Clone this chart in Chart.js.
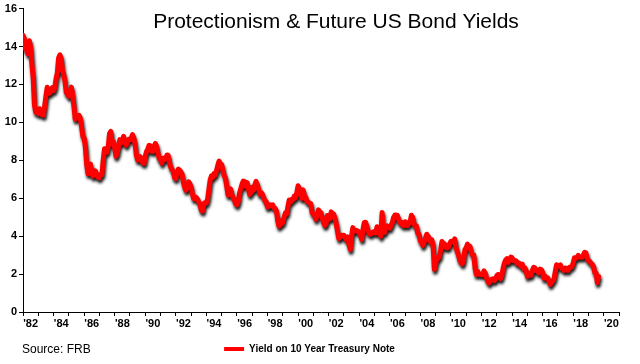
<!DOCTYPE html>
<html>
<head>
<meta charset="utf-8">
<script src="https://cdn.jsdelivr.net/npm/chart.js@4.4.0/dist/chart.umd.min.js"></script>
<style>
  html, body { margin: 0; padding: 0; background: #fff; }
  #wrap { position: relative; width: 640px; height: 364px; }
</style>
</head>
<body>
<div id="wrap"><canvas id="yieldChart" width="640" height="364"></canvas></div>
<script>
// Monthly 10 year treasury yields (%)
const firstYear = 1982;
const yields1982to1989 = [
  14.59, 14.43, 13.86, 13.87, 13.62, 14.30, 13.95, 13.06, 12.34, 10.91, 10.55, 10.54,
  10.46, 10.72, 10.51, 10.40, 10.38, 10.85, 11.38, 11.85, 11.65, 11.54, 11.69, 11.83,
  11.67, 11.84, 12.32, 12.63, 13.41, 13.56, 13.36, 12.72, 12.52, 12.16, 11.57, 11.50,
  11.38, 11.51, 11.86, 11.43, 10.85, 10.16, 10.31, 10.33, 10.37, 10.24, 9.78, 9.26,
  9.19, 8.70, 7.78, 7.30, 7.71, 7.80, 7.30, 7.17, 7.45, 7.43, 7.25, 7.11,
  7.08, 7.25, 7.25, 8.02, 8.61, 8.40, 8.45, 8.76, 9.42, 9.52, 8.86, 8.99,
  8.67, 8.21, 8.37, 8.72, 9.09, 8.92, 9.06, 9.26, 8.98, 8.80, 8.96, 9.11,
  9.09, 9.17, 9.36, 9.18, 8.86, 8.28, 8.02, 8.11, 8.19, 8.01, 7.87, 7.84
];
const yields1990s = [
  8.21, 8.47, 8.59, 8.79, 8.76, 8.48, 8.47, 8.75, 8.89, 8.72, 8.39, 8.08,
  8.09, 7.85, 8.11, 8.04, 8.07, 8.28, 8.27, 7.90, 7.65, 7.53, 7.42, 7.09,
  7.03, 7.34, 7.54, 7.48, 7.39, 7.26, 6.84, 6.59, 6.42, 6.59, 6.87, 6.77,
  6.60, 6.26, 5.98, 5.97, 6.04, 5.96, 5.81, 5.68, 5.36, 5.33, 5.72, 5.77,
  5.75, 5.97, 6.48, 6.97, 7.18, 7.10, 7.30, 7.24, 7.46, 7.74, 7.96, 7.81,
  7.78, 7.47, 7.20, 7.06, 6.63, 6.17, 6.28, 6.49, 6.20, 6.04, 5.93, 5.71,
  5.65, 5.81, 6.27, 6.51, 6.74, 6.91, 6.87, 6.64, 6.83, 6.53, 6.20, 6.30,
  6.58, 6.42, 6.69, 6.89, 6.71, 6.49, 6.22, 6.30, 6.21, 6.03, 5.88, 5.81,
  5.54, 5.57, 5.65, 5.64, 5.65, 5.50, 5.46, 5.34, 4.81, 4.53, 4.83, 4.65,
  4.72, 5.00, 5.23, 5.18, 5.54, 5.90, 5.79, 5.94, 5.92, 6.11, 6.03, 6.28
];
const yields2000s = [
  6.66, 6.52, 6.26, 5.99, 6.44, 6.10, 6.05, 5.83, 5.80, 5.74, 5.72, 5.24,
  5.16, 5.10, 4.89, 5.14, 5.39, 5.28, 5.24, 4.97, 4.73, 4.57, 4.65, 5.09,
  5.04, 4.91, 5.28, 5.21, 5.16, 4.93, 4.65, 4.26, 3.87, 3.94, 4.05, 4.03,
  4.05, 3.90, 3.81, 3.96, 3.57, 3.30, 3.98, 4.45, 4.27, 4.29, 4.30, 4.27,
  4.15, 4.08, 3.83, 4.35, 4.72, 4.73, 4.50, 4.28, 4.13, 4.10, 4.19, 4.23,
  4.22, 4.17, 4.50, 4.34, 4.14, 4.00, 5.25, 4.26, 4.20, 4.46, 4.54, 4.47,
  4.42, 4.57, 4.72, 4.99, 5.11, 5.11, 5.09, 4.88, 4.72, 4.73, 4.60, 4.56,
  4.76, 4.72, 4.56, 4.69, 4.75, 5.10, 5.00, 4.67, 4.52, 4.53, 4.15, 4.10,
  3.74, 3.74, 3.51, 3.68, 3.88, 4.10, 4.01, 3.89, 3.69, 3.81, 3.53, 2.25,
  2.52, 2.87, 2.82, 2.93, 3.29, 3.72, 3.56, 3.59, 3.40, 3.39, 3.40, 3.59
];
const yields2010s = [
  3.73, 3.69, 3.73, 3.85, 3.42, 3.20, 3.01, 2.70, 2.65, 2.54, 2.76, 3.29,
  3.39, 3.58, 3.41, 3.46, 3.17, 3.00, 3.00, 2.30, 1.98, 2.15, 2.01, 1.98,
  1.97, 1.97, 2.17, 2.05, 1.80, 1.62, 1.53, 1.68, 1.72, 1.75, 1.65, 1.72,
  1.91, 1.98, 1.96, 1.76, 1.93, 2.30, 2.58, 2.74, 2.81, 2.62, 2.72, 2.90,
  2.86, 2.71, 2.72, 2.71, 2.56, 2.60, 2.54, 2.42, 2.53, 2.30, 2.33, 2.21,
  1.88, 1.98, 2.04, 1.94, 2.20, 2.36, 2.32, 2.17, 2.17, 2.07, 2.26, 2.24,
  2.09, 1.78, 1.89, 1.81, 1.81, 1.64, 1.45, 1.56, 1.63, 1.76, 2.14, 2.49,
  2.43, 2.42, 2.48, 2.30, 2.30, 2.19, 2.32, 2.21, 2.20, 2.36, 2.35, 2.40,
  2.58, 2.86, 2.84, 2.87, 2.98, 2.91, 2.89, 2.89, 3.00, 3.15, 3.12, 2.83,
  2.71, 2.68, 2.57, 2.53, 2.40, 2.07, 2.06, 1.55, 1.88
];
const yearLabels = ["'82", "'84", "'86", "'88", "'90", "'92", "'94", "'96", "'98", "'00",
  "'02", "'04", "'06", "'08", "'10", "'12", "'14", "'16", "'18", "'20"];
const yTicks = [0, 2, 4, 6, 8, 10, 12, 14, 16];

const allYields = [...yields1982to1989, ...yields1990s, ...yields2000s, ...yields2010s];
const points = allYields.map((v, i) => ({ x: firstYear + i / 12, y: v }));

// Drop shadow under the line
const shadowPlugin = {
  id: "lineShadow",
  beforeDatasetDraw(chart) {
    const ctx = chart.ctx;
    ctx.save();
    ctx.shadowColor = "rgba(0,0,0,0.9)";
    ctx.shadowBlur = 3;
    ctx.shadowOffsetX = 1;
    ctx.shadowOffsetY = 3;
  },
  afterDatasetDraw(chart) {
    chart.ctx.restore();
  }
};

// Title sits over the plot area, source note at bottom left
const textPlugin = {
  id: "overlayText",
  afterDraw(chart) {
    const ctx = chart.ctx;
    ctx.save();
    ctx.fillStyle = "#000";
    ctx.font = "21px 'Liberation Sans', Arial, sans-serif";
    ctx.textAlign = "center";
    ctx.textBaseline = "alphabetic";
    ctx.fillText("Protectionism & Future US Bond Yields", 336, 28);
    ctx.font = "12px 'Liberation Sans', Arial, sans-serif";
    ctx.textAlign = "left";
    ctx.textBaseline = "middle";
    ctx.fillText("Source: FRB", 22, 350);
    ctx.restore();
  }
};

const tickFont = { family: "'Liberation Sans', Arial, sans-serif", size: 11, weight: "bold" };

new Chart(document.getElementById("yieldChart").getContext("2d"), {
  type: "line",
  data: {
    datasets: [{
      label: "Yield on 10 Year Treasury Note",
      data: points,
      borderColor: "#ff0000",
      backgroundColor: "#ff0000",
      borderWidth: 5,
      pointRadius: 0,
      tension: 0,
      borderJoinStyle: "round",
      borderCapStyle: "round",
      fill: false
    }]
  },
  options: {
    responsive: false,
    animation: false,
    layout: { padding: { left: 0, right: 21, top: 2, bottom: 0 } },
    plugins: {
      title: { display: false },
      tooltip: { enabled: false },
      legend: {
        display: true,
        position: "bottom",
        labels: {
          boxWidth: 20,
          boxHeight: 4,
          padding: 9,
          color: "#000",
          font: { family: "'Liberation Sans', Arial, sans-serif", size: 10, weight: "bold" },
          generateLabels: (chart) => [{
            text: chart.data.datasets[0].label,
            fillStyle: "#ff0000",
            strokeStyle: "#ff0000",
            lineWidth: 0,
            hidden: false,
            datasetIndex: 0
          }]
        }
      }
    },
    scales: {
      x: {
        type: "linear",
        min: 1982,
        max: 2021,
        afterFit(scale) { scale.height = 23; },
        afterBuildTicks(scale) {
          const ticks = [];
          for (let v = 1982; v <= 2021; v += 0.5) ticks.push({ value: v });
          scale.ticks = ticks;
        },
        ticks: {
          autoSkip: false,
          maxRotation: 0,
          padding: 1,
          color: "#000",
          font: tickFont,
          callback: (value) => {
            const idx = (value - 1982.5) / 2;
            return Number.isInteger(idx) ? yearLabels[idx] : "";
          }
        },
        grid: {
          drawOnChartArea: false,
          drawTicks: true,
          tickLength: 4,
          tickColor: (c) => (c.tick && c.tick.value % 1 === 0 ? "#000" : "rgba(0,0,0,0)")
        },
        border: { display: true, color: "#000", width: 1 }
      },
      y: {
        min: 0,
        max: 16,
        afterFit(scale) { scale.width = 23; },
        afterBuildTicks(scale) {
          scale.ticks = yTicks.map((v) => ({ value: v }));
        },
        ticks: {
          padding: 2,
          color: "#000",
          font: tickFont
        },
        grid: {
          drawOnChartArea: false,
          drawTicks: true,
          tickLength: 4,
          tickColor: "#000"
        },
        border: { display: true, color: "#000", width: 1 }
      }
    }
  },
  plugins: [shadowPlugin, textPlugin]
});
</script>
</body>
</html>
